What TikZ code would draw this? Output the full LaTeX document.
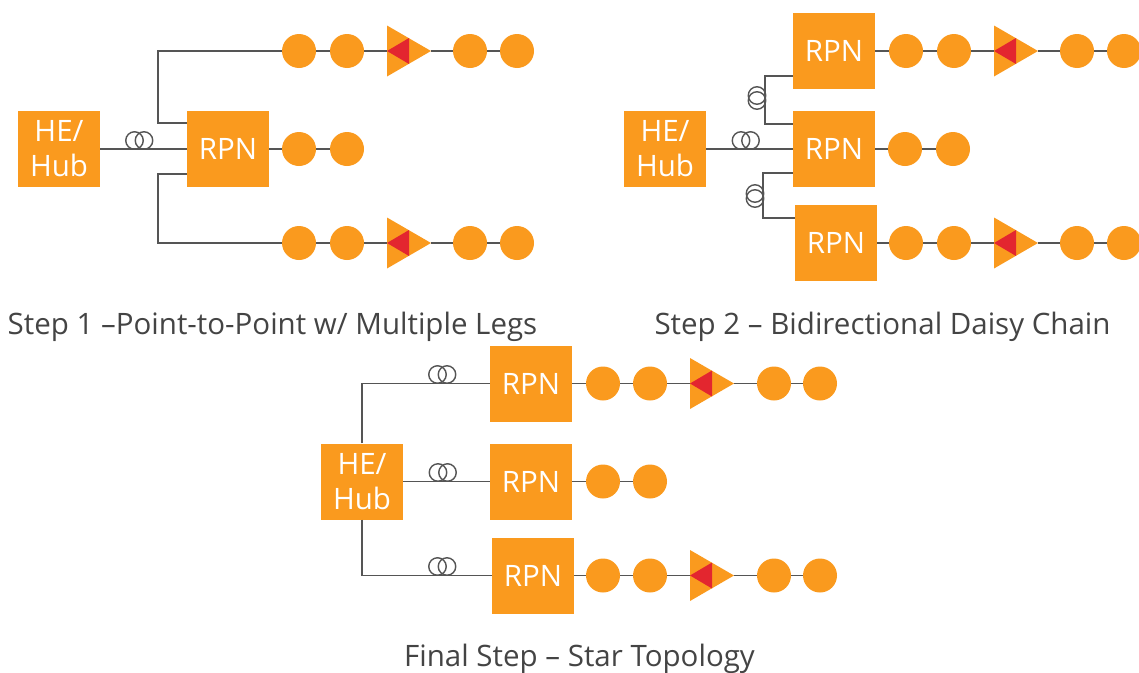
\documentclass[tikz,border=0pt]{standalone}
\usepackage{fontspec}
\setmainfont{Open Sans}
\definecolor{boxorange}{HTML}{FA9A1E}
\definecolor{ampred}{HTML}{E3262F}
\definecolor{linegray}{HTML}{555555}
\definecolor{textgray}{HTML}{444444}
\begin{document}
\begin{tikzpicture}[
    x=1pt,
    y=-1pt,
    box/.style={
        fill=boxorange,
        minimum width=82pt,
        minimum height=76pt,
        inner sep=0pt,
        align=center,
        text=white,
        font=\fontsize{29.5}{35}\selectfont
    },
    dot/.style={
        circle,
        fill=boxorange,
        minimum size=34pt,
        inner sep=0pt
    },
    amp/.style={
        rectangle,
        minimum width=44pt,
        minimum height=51pt,
        inner sep=0pt,
        path picture={
            \fill[boxorange] (path picture bounding box.north west) -- (path picture bounding box.east)
                -- (path picture bounding box.south west) -- cycle;
            \fill[ampred] (path picture bounding box.west) -- ([yshift=13pt]path picture bounding box.center)
                -- ([yshift=-13pt]path picture bounding box.center) -- cycle;
        }
    },
    coil/.style={
        circle,
        draw=linegray,
        line width=1.4pt,
        minimum size=17.5pt,
        inner sep=0pt
    },
    link/.style={
        draw=linegray,
        line width=1.6pt
    },
    caption/.style={
        text=textgray,
        inner sep=0pt,
        font=\fontsize{29.5}{35}\selectfont
    }
]
\useasboundingbox (0,0) rectangle (1139,672);

% =====================
% Step 1
% =====================
\node[box] (hubA) at (59,149) {HE/\\Hub};
\node[box] (rpnA) at (228,149) {RPN};

\node[dot] (dotA1) at (299,51) {};
\node[dot] (dotA2) at (347,51) {};
\node[amp] (ampA1) at (409,51) {};
\node[dot] (dotA3) at (470,51) {};
\node[dot] (dotA4) at (517,51) {};

\node[dot] (dotA5) at (299,149) {};
\node[dot] (dotA6) at (347,149) {};

\node[dot] (dotA7) at (299,243) {};
\node[dot] (dotA8) at (347,243) {};
\node[amp] (ampA2) at (409,243) {};
\node[dot] (dotA9) at (470,243) {};
\node[dot] (dotA10) at (517,243) {};

\coordinate (cornerA1) at (158,51);
\coordinate (cornerA2) at (158,243);

\draw[link] (hubA) -- (rpnA);
\draw[link] ([yshift=26pt]rpnA.west) -| (cornerA1) -- (dotA1);
\draw[link] ([yshift=-25pt]rpnA.west) -| (cornerA2) -- (dotA7);
\draw[link] (rpnA) -- (dotA5) -- (dotA6);
\draw[link] (dotA1) -- (dotA2) -- (ampA1) -- (dotA3) -- (dotA4);
\draw[link] (dotA7) -- (dotA8) -- (ampA2) -- (dotA9) -- (dotA10);

\node[coil] (coilA1) at (134.5,140.5) {};
\node[coil] (coilA2) at (144,140.5) {};

\node[caption] (capA) at (272.5,326.5) {Step 1 –Point-to-Point w/ Multiple Legs};

% =====================
% Step 2
% =====================
\node[box] (hubB) at (665,149) {HE/\\Hub};
\node[box] (rpnB1) at (834,51) {RPN};
\node[box] (rpnB2) at (834,149) {RPN};
\node[box] (rpnB3) at (836,243) {RPN};

\node[dot] (dotB1) at (906,51) {};
\node[dot] (dotB2) at (954,51) {};
\node[amp] (ampB1) at (1016,51) {};
\node[dot] (dotB3) at (1077,51) {};
\node[dot] (dotB4) at (1124,51) {};

\node[dot] (dotB5) at (905,149) {};
\node[dot] (dotB6) at (953,149) {};

\node[dot] (dotB7) at (906,243) {};
\node[dot] (dotB8) at (954,243) {};
\node[amp] (ampB2) at (1016,243) {};
\node[dot] (dotB9) at (1077,243) {};
\node[dot] (dotB10) at (1124,243) {};

\coordinate (cornerB1) at (765,76);
\coordinate (cornerB2) at (763,173);

\draw[link] (hubB) -- (rpnB2);
\draw[link] ([yshift=-25pt]rpnB1.west) -- (cornerB1) |- ([yshift=25pt]rpnB2.west);
\draw[link] ([yshift=-24pt]rpnB2.west) -- (cornerB2) |- ([yshift=25pt]rpnB3.west);
\draw[link] (rpnB1) -- (dotB1) -- (dotB2) -- (ampB1) -- (dotB3) -- (dotB4);
\draw[link] (rpnB2) -- (dotB5) -- (dotB6);
\draw[link] (rpnB3) -- (dotB7) -- (dotB8) -- (ampB2) -- (dotB9) -- (dotB10);

\node[coil] (coilB1) at (741,140.5) {};
\node[coil] (coilB2) at (750.5,140.5) {};
\node[coil] (coilB3) at (757,95.5) {};
\node[coil] (coilB4) at (757,100.5) {};
\node[coil] (coilB5) at (755,193.5) {};
\node[coil] (coilB6) at (755,198.5) {};

\node[caption] (capB) at (882.5,326.5) {Step 2 – Bidirectional Daisy Chain};

% =====================
% Final Step
% =====================
\node[box] (hubC) at (362,481.5) {HE/\\Hub};
\node[box] (rpnC1) at (531,383.5) {RPN};
\node[box] (rpnC2) at (531,481.5) {RPN};
\node[box] (rpnC3) at (533,575.5) {RPN};

\node[dot] (dotC1) at (603,383.5) {};
\node[dot] (dotC2) at (650,383.5) {};
\node[amp] (ampC1) at (712,383.5) {};
\node[dot] (dotC3) at (774,383.5) {};
\node[dot] (dotC4) at (820,383.5) {};

\node[dot] (dotC5) at (603,481.5) {};
\node[dot] (dotC6) at (650,481.5) {};

\node[dot] (dotC7) at (603,575.5) {};
\node[dot] (dotC8) at (650,575.5) {};
\node[amp] (ampC2) at (712,575.5) {};
\node[dot] (dotC9) at (774,575.5) {};
\node[dot] (dotC10) at (820,575.5) {};

\draw[link] (hubC.north) |- (rpnC1.west);
\draw[link] (hubC) -- (rpnC2);
\draw[link] (hubC.south) |- (rpnC3.west);
\draw[link] (rpnC1) -- (dotC1) -- (dotC2) -- (ampC1) -- (dotC3) -- (dotC4);
\draw[link] (rpnC2) -- (dotC5) -- (dotC6);
\draw[link] (rpnC3) -- (dotC7) -- (dotC8) -- (ampC2) -- (dotC9) -- (dotC10);

\node[coil] (coilC1) at (437.5,374.5) {};
\node[coil] (coilC2) at (447,374.5) {};
\node[coil] (coilC3) at (438,472.5) {};
\node[coil] (coilC4) at (447.5,472.5) {};
\node[coil] (coilC5) at (437.5,566.5) {};
\node[coil] (coilC6) at (447,566.5) {};

\node[caption] (capC) at (579.5,658.5) {Final Step – Star Topology};

\end{tikzpicture}
\end{document}
